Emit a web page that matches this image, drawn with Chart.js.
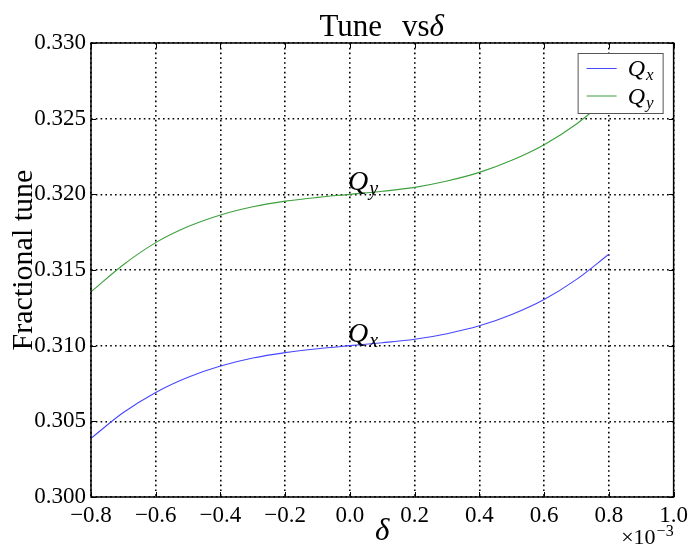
<!DOCTYPE html>
<html>
<head>
<meta charset="utf-8">
<title>Tune vs delta</title>
<script src="https://cdn.jsdelivr.net/npm/chart.js@4.4.0/dist/chart.umd.min.js"></script>
<style>
    html, body { margin: 0; padding: 0; background: #fff; }
    #wrap { width: 693px; height: 548px; }
</style>
</head>
<body>
<div id="wrap"><canvas id="tune-chart"></canvas></div>
<script>
// momentum deviation (units of 1e-3) and fractional tunes
const deltas = [-0.8, -0.7, -0.6, -0.5, -0.4, -0.3, -0.2, -0.1, 0.0, 0.1, 0.2, 0.3, 0.4, 0.5, 0.6, 0.7, 0.8];
const qx = [0.30388, 0.30558, 0.30691, 0.30791, 0.30865, 0.30918, 0.30954, 0.30980, 0.31000, 0.31019, 0.31042, 0.31079, 0.31131, 0.31206, 0.31305, 0.31438, 0.31604];
const qy = [0.31356, 0.31535, 0.31681, 0.31787, 0.31864, 0.31918, 0.31955, 0.31980, 0.32000, 0.32020, 0.32046, 0.32088, 0.32145, 0.32225, 0.32328, 0.32465, 0.32640];
const xTicks = [-0.8, -0.6, -0.4, -0.2, 0.0, 0.2, 0.4, 0.6, 0.8, 1.0];
const yTicks = [0.300, 0.305, 0.310, 0.315, 0.320, 0.325, 0.330];
const seriesNames = ['x', 'y'];
const seriesColors = ['rgb(70, 70, 255)', 'rgb(60, 160, 60)'];

const SERIF = '"Liberation Serif", "DejaVu Serif", serif';

function points(ys) {
    return deltas.map((d, i) => ({ x: d, y: ys[i] }));
}

// "Q" with an italic subscript
function drawQ(ctx, sub, x, y, size) {
    ctx.font = 'italic ' + size + 'px ' + SERIF;
    ctx.textAlign = 'left';
    ctx.textBaseline = 'alphabetic';
    ctx.fillText('Q', x, y);
    const w = ctx.measureText('Q').width;
    ctx.font = 'italic ' + Math.round(size * 0.7) + 'px ' + SERIF;
    ctx.fillText(sub, x + w + 1, y + size * 0.18);
}

const decorations = {
    id: 'decorations',
    afterDraw(chart) {
        const ctx = chart.ctx;
        const area = chart.chartArea;
        const xs = chart.scales.x;
        const ys = chart.scales.y;
        ctx.save();
        ctx.fillStyle = '#000';
        ctx.strokeStyle = '#000';

        // inward tick marks on all four sides
        ctx.lineWidth = 1;
        ctx.beginPath();
        xTicks.forEach(v => {
            const px = Math.round(xs.getPixelForValue(v)) + 0.5;
            ctx.moveTo(px, area.bottom); ctx.lineTo(px, area.bottom - 5);
            ctx.moveTo(px, area.top); ctx.lineTo(px, area.top + 5);
        });
        yTicks.forEach(v => {
            const py = Math.round(ys.getPixelForValue(v)) + 0.5;
            ctx.moveTo(area.left, py); ctx.lineTo(area.left + 5, py);
            ctx.moveTo(area.right, py); ctx.lineTo(area.right - 5, py);
        });
        ctx.stroke();

        // curve labels at delta = 0
        drawQ(ctx, 'x', xs.getPixelForValue(0) - 2, ys.getPixelForValue(qx[8]) - 4, 28);
        drawQ(ctx, 'y', xs.getPixelForValue(0) - 2, ys.getPixelForValue(qy[8]) - 4, 28);

        // legend box in the upper right corner
        const lx = area.right - 96, ly = area.top + 10, lw = 85, lh = 60;
        ctx.fillStyle = '#fff';
        ctx.fillRect(lx, ly, lw, lh);
        ctx.strokeStyle = '#555';
        ctx.lineWidth = 1;
        ctx.strokeRect(lx + 0.5, ly + 0.5, lw, lh);
        chart.data.datasets.forEach((ds, i) => {
            const rowY = ly + 15 + i * 27.5;
            ctx.strokeStyle = ds.borderColor;
            ctx.lineWidth = 1;
            ctx.beginPath();
            ctx.moveTo(lx + 9, rowY + 0.5);
            ctx.lineTo(lx + 39, rowY + 0.5);
            ctx.stroke();
            ctx.fillStyle = '#000';
            drawQ(ctx, seriesNames[i], lx + 50, rowY + 8, 24);
        });

        // frame
        ctx.strokeStyle = '#000';
        ctx.lineWidth = 1.5;
        ctx.strokeRect(area.left, area.top, area.right - area.left, area.bottom - area.top);

        // title
        ctx.fillStyle = '#000';
        ctx.textBaseline = 'alphabetic';
        ctx.font = '31px ' + SERIF;
        ctx.textAlign = 'right';
        ctx.fillText('Tune', 382, 36);
        ctx.textAlign = 'left';
        ctx.fillText('vs', 402, 36);
        const vsW = ctx.measureText('vs').width;
        ctx.font = 'italic 31px ' + SERIF;
        ctx.fillText('\u03b4', 402 + vsW, 36);

        // axis titles
        ctx.font = 'italic 31px ' + SERIF;
        ctx.textAlign = 'center';
        ctx.fillText('\u03b4', (area.left + area.right) / 2, 540);

        ctx.save();
        ctx.translate(32, (area.top + area.bottom) / 2 - 10);
        ctx.rotate(-Math.PI / 2);
        ctx.font = '30px ' + SERIF;
        ctx.textAlign = 'center';
        ctx.fillText('Fractional tune', 0, 0);
        ctx.restore();

        // x offset multiplier
        ctx.textAlign = 'right';
        ctx.font = '16px ' + SERIF;
        const expW = ctx.measureText('\u22123').width;
        ctx.fillText('\u22123', area.right, 536);
        ctx.font = '22px ' + SERIF;
        ctx.fillText('\u00d710', area.right - expW - 1, 544);

        ctx.restore();
    }
};

const ctx = document.getElementById('tune-chart').getContext('2d');
const tuneChart = new Chart(ctx, {
    type: 'line',
    data: {
        datasets: [{
            label: 'Qx',
            data: points(qx),
            borderColor: seriesColors[0],
            borderWidth: 1.1,
            pointRadius: 0,
            fill: false,
            cubicInterpolationMode: 'monotone'
        }, {
            label: 'Qy',
            data: points(qy),
            borderColor: seriesColors[1],
            borderWidth: 1.1,
            pointRadius: 0,
            fill: false,
            cubicInterpolationMode: 'monotone'
        }]
    },
    options: {
        responsive: true,
        maintainAspectRatio: false,
        animation: false,
        events: [],
        layout: { padding: { left: 0, top: 43, right: 16, bottom: 0 } },
        plugins: {
            legend: { display: false },
            title: { display: false },
            tooltip: { enabled: false }
        },
        scales: {
            x: {
                type: 'linear',
                min: -0.8,
                max: 1.0,
                afterBuildTicks: s => { s.ticks = xTicks.map(v => ({ value: v })); },
                afterFit: s => { s.height = 51; },
                grid: { color: '#000', lineWidth: 1.6, drawTicks: false },
                border: { display: false, dash: [1.6, 3.2] },
                ticks: {
                    color: '#000',
                    padding: 5,
                    autoSkip: false,
                    maxRotation: 0,
                    font: { family: SERIF, size: 23 },
                    callback: v => (v < -1e-9 ? '\u2212' : '') + Math.abs(v).toFixed(1)
                }
            },
            y: {
                type: 'linear',
                min: 0.300,
                max: 0.330,
                afterBuildTicks: s => { s.ticks = yTicks.map(v => ({ value: v })); },
                afterFit: s => { s.width = 91; },
                grid: { color: '#000', lineWidth: 1.6, drawTicks: false },
                border: { display: false, dash: [1.6, 3.2] },
                ticks: {
                    color: '#000',
                    padding: 5,
                    font: { family: SERIF, size: 23 },
                    callback: v => v.toFixed(3)
                }
            }
        }
    },
    plugins: [decorations]
});
</script>
</body>
</html>
